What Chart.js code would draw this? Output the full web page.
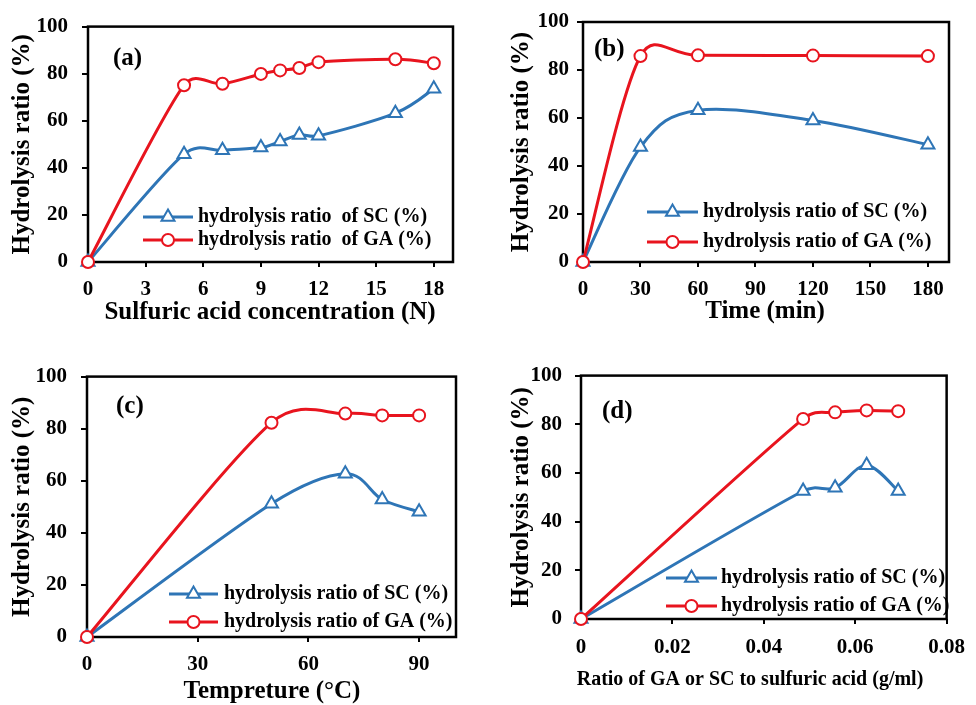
<!DOCTYPE html>
<html>
<head>
<meta charset="utf-8">
<script src="https://cdn.jsdelivr.net/npm/chart.js@4.4.1/dist/chart.umd.min.js"></script>
<style>
  html, body { margin: 0; padding: 0; background: #fff; width: 976px; height: 705px; overflow: hidden; }
  canvas { position: absolute; }
</style>
</head>
<body>
<canvas id="panelA"></canvas>
<canvas id="panelB"></canvas>
<canvas id="panelC"></canvas>
<canvas id="panelD"></canvas>
<script>
// (a) effect of sulfuric acid concentration
const acidConcN = [0, 5, 7, 9, 10, 11, 12, 16, 18];
const acidSC    = [0, 45.8, 47.5, 48.6, 51.2, 54.0, 53.6, 63.2, 73.6];
const acidGA    = [0, 75.1, 75.7, 79.9, 81.4, 82.4, 84.9, 86.1, 84.4];
const acidTicks = [0, 3, 6, 9, 12, 15, 18];

// (b) effect of hydrolysis time
const timeMin   = [0, 30, 60, 120, 180];
const timeSC    = [0, 47.9, 63.2, 59.0, 48.9];
const timeGA    = [0, 85.8, 86.1, 86.0, 85.8];
const timeTicks = [0, 30, 60, 90, 120, 150, 180];

// (c) effect of temperature
const tempC     = [0, 50, 70, 80, 90];
const tempSC    = [0, 51.2, 62.7, 52.8, 48.1];
const tempGA    = [0, 82.3, 85.8, 85.1, 85.1];
const tempTicks = [0, 30, 60, 90];

// (d) effect of solid-to-acid ratio
const ratioGmL   = [0, 0.0486, 0.0556, 0.0625, 0.0694];
const ratioSC    = [0, 52.6, 53.9, 63.2, 52.6];
const ratioGA    = [0, 82.2, 84.9, 85.7, 85.4];
const ratioTicks = [0, 0.02, 0.04, 0.06, 0.08];

const yTicks = [0, 20, 40, 60, 80, 100];

const seriesNamesA = ['hydrolysis ratio  of SC (%)', 'hydrolysis ratio  of GA (%)'];
const seriesNames  = ['hydrolysis ratio of SC (%)', 'hydrolysis ratio of GA (%)'];
const yTitle = 'Hydrolysis ratio (%)';

const BLUE = '#2E75B6';
const RED = '#E8141E';
const FONT = "'Liberation Serif', 'Times New Roman', serif";

const panels = [
  { id: 'panelA', box: [0, 0, 488, 350], plot: [88, 22, 453, 262], yPad: 14, xPad: 10,
    x: acidConcN, sc: acidSC, ga: acidGA, xTicks: acidTicks, xMin: 0, xMax: 19,
    names: seriesNamesA, tag: '(a)', tagPos: [113, 59],
    xTitle: 'Sulfuric acid concentration (N)', xTitleSize: 25, xTitlePos: [270, 313], yTitleX: 23,
    legend: { x1: 143, x2: 193, tx: 198, rows: [217, 240] } },
  { id: 'panelB', box: [488, 0, 488, 350], plot: [583, 22, 949, 262], yPad: 8, xPad: 10,
    x: timeMin, sc: timeSC, ga: timeGA, xTicks: timeTicks, xMin: 0, xMax: 191,
    names: seriesNames, tag: '(b)', tagPos: [594, 50],
    xTitle: 'Time (min)', xTitleSize: 25, xTitlePos: [765, 312], yTitleX: 522,
    legend: { x1: 647, x2: 698, tx: 703, rows: [212, 242] } },
  { id: 'panelC', box: [0, 350, 488, 355], plot: [87, 367, 456, 637], yPad: 14, xPad: 10,
    x: tempC, sc: tempSC, ga: tempGA, xTicks: tempTicks, xMin: 0, xMax: 100,
    names: seriesNames, tag: '(c)', tagPos: [116, 407],
    xTitle: 'Tempreture (°C)', xTitleSize: 25, xTitlePos: [272, 692], yTitleX: 23,
    legend: { x1: 169, x2: 218, tx: 224, rows: [594, 622] } },
  { id: 'panelD', box: [488, 350, 488, 355], plot: [581, 366, 954, 619], yPad: 13, xPad: 11,
    x: ratioGmL, sc: ratioSC, ga: ratioGA, xTicks: ratioTicks, xMin: 0, xMax: 0.08,
    names: seriesNames, tag: '(d)', tagPos: [602, 412],
    xTitle: 'Ratio of GA or SC to sulfuric acid (g/ml)', xTitleSize: 20, xTitlePos: [750, 680], yTitleX: 522,
    legend: { x1: 666, x2: 717, tx: 721, rows: [578, 606] } }
];

// Smoothed lines: each Bezier handle follows the chord between the neighbouring
// points (1/6 of its length) but never reaches past half of its own segment.
const chordSmoothing = {
  id: 'chordSmoothing',
  beforeDatasetsDraw(chart) {
    chart.data.datasets.forEach((ds, di) => {
      const meta = chart.getDatasetMeta(di);
      const line = meta.dataset;
      const pts = meta.data;
      line.updateControlPoints(chart.chartArea, 'x');
      for (let i = 0; i < pts.length; i++) {
        const p = pts[i];
        const prev = pts[i - 1] || p;
        const next = pts[i + 1] || p;
        const cx = next.x - prev.x, cy = next.y - prev.y;
        const chord = Math.hypot(cx, cy) || 1;
        const dPrev = Math.hypot(p.x - prev.x, p.y - prev.y);
        const dNext = Math.hypot(next.x - p.x, next.y - p.y);
        const back = Math.min(chord / 6, dPrev / 2) / chord;
        const fwd = Math.min(chord / 6, dNext / 2) / chord;
        p.cp1x = p.x - cx * back; p.cp1y = p.y - cy * back;
        p.cp2x = p.x + cx * fwd;  p.cp2y = p.y + cy * fwd;
      }
      line._path = undefined;
    });
  }
};

function decorations(p) {
  const [bx, by] = p.box;
  return {
    id: 'decorations',
    beforeDatasetsDraw(chart) {
      const { ctx, chartArea: a } = chart;
      ctx.save();
      ctx.strokeStyle = '#000';
      ctx.lineWidth = 2.5;
      ctx.strokeRect(a.left, a.top, a.right - a.left, a.bottom - a.top);
      ctx.restore();
    },
    afterDraw(chart) {
      const { ctx, chartArea: a } = chart;
      ctx.save();
      ctx.fillStyle = '#000';
      ctx.textAlign = 'center';
      ctx.textBaseline = 'middle';
      // axis titles
      ctx.font = `bold ${p.xTitleSize}px ${FONT}`;
      ctx.fillText(p.xTitle, p.xTitlePos[0] - bx, p.xTitlePos[1] - by);
      ctx.save();
      ctx.translate(p.yTitleX - bx, (a.top + a.bottom) / 2);
      ctx.rotate(-Math.PI / 2);
      ctx.font = `bold 25px ${FONT}`;
      ctx.fillText(yTitle, 0, 0);
      ctx.restore();
      // panel tag
      ctx.textAlign = 'left';
      ctx.font = `bold 25px ${FONT}`;
      ctx.fillText(p.tag, p.tagPos[0] - bx, p.tagPos[1] - by);
      // legend
      const lg = p.legend;
      chart.data.datasets.forEach((ds, i) => {
        const y = lg.rows[i] - by;
        ctx.strokeStyle = ds.borderColor;
        ctx.lineWidth = 3;
        ctx.beginPath();
        ctx.moveTo(lg.x1 - bx, y);
        ctx.lineTo(lg.x2 - bx, y);
        ctx.stroke();
        ctx.fillStyle = '#fff';
        ctx.strokeStyle = ds.borderColor;
        ctx.lineWidth = ds.pointBorderWidth;
        Chart.helpers.drawPoint(ctx, { pointStyle: ds.pointStyle, radius: ds.pointRadius, rotation: 0, borderWidth: ds.pointBorderWidth },
          (lg.x1 + lg.x2) / 2 - bx, y);
        ctx.fillStyle = '#000';
        ctx.font = `bold 20px ${FONT}`;
        ctx.fillText(ds.label, lg.tx - bx, y);
      });
      ctx.restore();
    }
  };
}

function series(label, xs, ys, color, style, radius, order) {
  return {
    label,
    data: xs.map((v, i) => ({ x: v, y: ys[i] })),
    borderColor: color,
    borderWidth: 3,
    pointStyle: style,
    pointRadius: radius,
    pointBorderWidth: 2,
    pointBorderColor: color,
    pointBackgroundColor: '#fff',
    tension: 0.5,
    clip: false,
    order
  };
}

function makePanel(p) {
  const cv = document.getElementById(p.id);
  const [bx, by, bw, bh] = p.box;
  const [pl, pt, pr, pb] = p.plot;
  cv.style.left = bx + 'px';
  cv.style.top = by + 'px';
  cv.width = bw;
  cv.height = bh;
  const tickFont = { family: FONT, size: 21, weight: 'bold' };
  new Chart(cv, {
    type: 'line',
    data: {
      datasets: [
        series(p.names[0], p.x, p.sc, BLUE, 'triangle', 7.5, 2),
        series(p.names[1], p.x, p.ga, RED, 'circle', 6, 1)
      ]
    },
    options: {
      responsive: false,
      animation: false,
      devicePixelRatio: 1,
      layout: { padding: { left: 0, top: pt - by, right: bx + bw - pr, bottom: 0 } },
      plugins: { legend: { display: false }, tooltip: { enabled: false } },
      scales: {
        x: {
          type: 'linear', min: p.xMin, max: p.xMax,
          afterBuildTicks: s => { s.ticks = p.xTicks.map(v => ({ value: v })); },
          afterFit: s => { s.height = by + bh - pb; },
          ticks: { font: tickFont, color: '#000', padding: p.xPad, maxRotation: 0, autoSkip: false,
                   callback: v => String(v) },
          grid: { drawOnChartArea: false, drawTicks: true, tickLength: 5, color: '#000', lineWidth: 2 },
          border: { display: false }
        },
        y: {
          min: 0, max: 100,
          afterBuildTicks: s => { s.ticks = yTicks.map(v => ({ value: v })); },
          afterFit: s => { s.width = pl - bx; },
          ticks: { font: tickFont, color: '#000', padding: p.yPad, callback: v => String(v) },
          grid: { drawOnChartArea: false, drawTicks: true, tickLength: 6, color: '#000', lineWidth: 2 },
          border: { display: false }
        }
      }
    },
    plugins: [chordSmoothing, decorations(p)]
  });
}

panels.forEach(makePanel);
</script>
</body>
</html>
